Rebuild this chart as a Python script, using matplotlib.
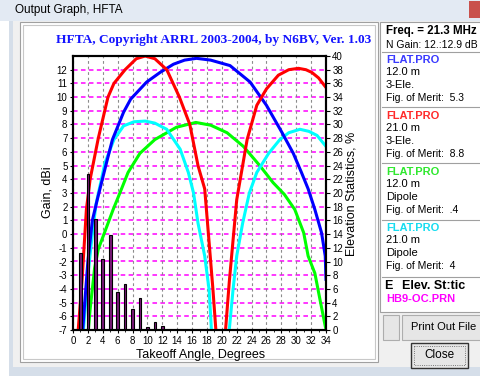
import numpy as np
import matplotlib.pyplot as plt
from matplotlib.patches import Rectangle

plt.rcParams['font.family'] = ['Liberation Sans', 'DejaVu Sans']
plt.rcParams['axes.unicode_minus'] = False

# gain curves, takeoff angle (deg) vs gain (dBi)
red_ang1 = [0.7, 1.2, 1.8, 2.3, 3.4, 4.7, 5.5, 7.0, 8.5, 9.7, 11.0, 12.6, 14.3, 15.7, 16.8, 17.7, 18.2, 18.8, 19.2]
red_gain1 = [-7, -3.5, 1.8, 4.0, 7.0, 10.0, 11.0, 12.0, 12.8, 13.0, 12.8, 12.0, 10.0, 8.0, 5.0, 3.3, 0.0, -4.0, -7]
red_ang2 = [20.5, 21.0, 21.5, 22.0, 23.4, 24.7, 26.0, 27.6, 29.0, 30.3, 31.3, 32.1, 33.0, 34.0]
red_gain2 = [-7, -3.5, -0.5, 2.5, 6.9, 9.4, 10.6, 11.6, 12.0, 12.1, 12.0, 11.8, 11.4, 10.7]

blue_ang = [1.3, 2.0, 2.6, 3.3, 4.5, 5.3, 6.8, 7.75, 9.9, 11.7, 13.5, 15.0, 16.6, 18.5, 21.1, 23.8, 26.0,
            28.1, 29.6, 30.7, 31.6, 32.5, 33.4, 33.9, 34.0]
blue_gain = [-7, -2.0, 1.0, 2.6, 5.2, 6.9, 8.9, 9.85, 11.1, 11.8, 12.4, 12.7, 12.83, 12.7, 12.3, 11.1, 9.4,
             7.4, 5.9, 4.5, 3.3, 1.8, 0.1, -1.6, -3.3]

cyan_ang1 = [1.4, 2.0, 2.6, 3.1, 4.3, 5.5, 6.8, 8.2, 9.7, 11.0, 12.6, 14.4, 15.5, 16.2, 16.8, 17.7, 18.3, 18.6]
cyan_gain1 = [-7, -3.0, 0.0, 2.2, 5.2, 6.9, 7.9, 8.2, 8.25, 8.1, 7.65, 6.2, 4.5, 3.0, 0.8, -1.6, -4.1, -7]
cyan_ang2 = [21.0, 21.5, 22.0, 22.8, 23.7, 24.7, 26.3, 27.8, 29.0, 30.5, 31.7, 32.8, 34.0]
cyan_gain2 = [-7, -4.1, -1.6, 0.8, 3.0, 4.5, 5.9, 6.9, 7.4, 7.65, 7.5, 7.2, 6.4]

green_ang = [2.06, 2.3, 2.6, 2.9, 3.4, 4.3, 5.4, 6.3, 7.4, 9.0, 11.0, 13.9, 16.5, 18.5, 20.7, 22.9, 25.1,
             26.9, 28.4, 29.8, 31.0, 31.6, 32.5, 33.2, 34.0]
green_gain = [-7, -5.5, -4.0, -2.5, -1.1, 0.2, 1.8, 3.0, 4.5, 5.9, 6.9, 7.8, 8.15, 7.95, 7.4, 6.4, 5.0,
              3.75, 2.9, 1.8, 0.1, -1.6, -2.85, -4.8, -7]

# elevation statistics, % of openings per degree
stat_ang = [1, 2, 3, 4, 5, 6, 7, 8, 9, 10, 11, 12]
stat_pct = [11.3, 22.8, 16.2, 10.3, 13.8, 5.6, 6.7, 3.1, 4.6, 0.4, 1.1, 0.6]

W, H = 480, 376
fig = plt.figure(figsize=(W / 100, H / 100), dpi=100)
fig.patch.set_facecolor('#f0f0f0')

# background layer in pixel coordinates for the window chrome
bg = fig.add_axes([0, 0, 1, 1])
bg.set_xlim(0, W)
bg.set_ylim(H, 0)
bg.axis('off')
bg.set_zorder(0)


def box(x0, y0, x1, y1, fc, ec='none', lw=0.8, ls='-'):
    bg.add_patch(Rectangle((x0, y0), x1 - x0, y1 - y0, facecolor=fc, edgecolor=ec, lw=lw, ls=ls))


box(0, 0, W, 21, '#e3eaf3')
box(0, 21, 9, H, '#ffffff')
box(9, 21, 13, H, '#d5dee9')
box(13, 367, W, H, '#d5dee9')
box(20, 22, 378, 362, '#ffffff', '#a0a0a0')
box(23, 25, 375, 359, 'none', '#c8c8c8')
box(380, 22, W + 2, 312, '#ffffff', '#a0a0a0')
box(469, 1, W + 2, 18, '#c9514c')
bg.text(15, 10, 'Output Graph, HFTA', fontsize=8.5, va='center', ha='left')

# right panel
bg.text(386, 31, 'Freq. = 21.3 MHz', fontsize=8.3, fontweight='bold', va='center')
bg.text(386, 45, 'N Gain: 12.:12.9 dB', fontsize=7.5, va='center')
for yy in [52, 107, 163, 220, 277]:
    bg.plot([382, W], [yy, yy], color='#a0a0a0', lw=0.8)

entries = [
    (60, '#3a3aff', '12.0 m', '3-Ele.', 'Fig. of Merit:  5.3'),
    (116, '#ff2a2a', '21.0 m', '3-Ele.', 'Fig. of Merit:  8.8'),
    (172, '#2ee82e', '12.0 m', 'Dipole', 'Fig. of Merit:  .4'),
    (228, '#16dcf0', '21.0 m', 'Dipole', 'Fig. of Merit:  4'),
]
for y0, col, ht, ant, fom in entries:
    bg.text(386, y0, 'FLAT.PRO', color=col, fontsize=8, fontweight='bold', va='center')
    bg.text(386, y0 + 12, ht, fontsize=8, va='center')
    bg.text(386, y0 + 25, ant, fontsize=8, va='center')
    bg.text(386, y0 + 38, fom, fontsize=7.5, va='center')

bg.text(384, 286, 'E', fontsize=9, fontweight='bold', va='center')
bg.text(402, 286, 'Elev. St:tic', fontsize=9, fontweight='bold', va='center')
bg.text(386, 299, 'HB9-OC.PRN', color='#ff00ff', fontsize=8, fontweight='bold', va='center')

box(383, 315, 399, 340, '#e6e6e6', '#adadad')
box(402, 315, W + 2, 340, '#e6e6e6', '#adadad')
bg.text(411, 327.5, 'Print Out File', fontsize=8, va='center')
box(411, 343, 468, 368, '#e6e6e6', '#333333', lw=1)
box(414, 346, 465, 365, 'none', '#555555', lw=0.6, ls=':')
bg.text(439.5, 355.5, 'Close', fontsize=8.5, va='center', ha='center')

# chart title and axis labels
bg.text(214, 40, 'HFTA, Copyright ARRL 2003-2004, by N6BV, Ver. 1.03', color='#1414ff',
        fontsize=9.6, fontweight='bold', family='Liberation Serif', ha='center', va='center')
bg.text(48, 192, 'Gain, dBi', fontsize=9, rotation=90, ha='center', va='center')
bg.text(352, 194, 'Elevation Statistics, %', fontsize=9, rotation=90, ha='center', va='center')
bg.text(201, 355, 'Takeoff Angle, Degrees', fontsize=9, ha='center', va='center')

# main chart
ax = fig.add_axes([73 / W, 1 - 330 / H, (326 - 73) / W, (330 - 56) / H])
ax.set_zorder(1)
ax.set_facecolor('white')
ax.set_xlim(0, 34)
ax.set_ylim(-7, 13)
ax.set_xticks(range(0, 35, 2))
ax.set_xticks(range(0, 35, 1), minor=True)
ax.set_yticks(range(-7, 13))
ax.xaxis.grid(True, linestyle=(0, (2.5, 2.5)), color='#8c8c8c', lw=0.8)
ax.hlines(range(-6, 13), 0, 34, colors='#ff00ff', linestyles=(0, (3, 2.2)), lw=1.1, zorder=1)
ax.tick_params(axis='both', labelsize=7, length=2.5, width=0.8, pad=1.5)
ax.tick_params(axis='x', which='minor', length=1.5, width=0.6)
for s in ax.spines.values():
    s.set_linewidth(1.5)

lw = 2.2
ax.plot(green_ang, green_gain, color='#00ff00', lw=lw, zorder=3)
ax.plot(cyan_ang1, cyan_gain1, color='#00ffff', lw=lw, zorder=3)
ax.plot(cyan_ang2, cyan_gain2, color='#00ffff', lw=lw, zorder=3)
ax.plot(blue_ang, blue_gain, color='#0000ff', lw=lw, zorder=3)
ax.plot(red_ang1, red_gain1, color='#ff0000', lw=lw, zorder=4)
ax.plot(red_ang2, red_gain2, color='#ff0000', lw=lw, zorder=4)

ax2 = ax.twinx()
ax2.set_ylim(0, 40)
ax2.set_yticks(range(0, 41, 2))
ax2.tick_params(axis='y', labelsize=7, length=3, width=0.8, pad=1.5)
ax2.bar(stat_ang, stat_pct, width=0.35, color='#7a1a78', edgecolor='black', lw=0.8)
for s in ax2.spines.values():
    s.set_linewidth(1.5)

fig.savefig('out.png', dpi=100, facecolor=fig.get_facecolor())
